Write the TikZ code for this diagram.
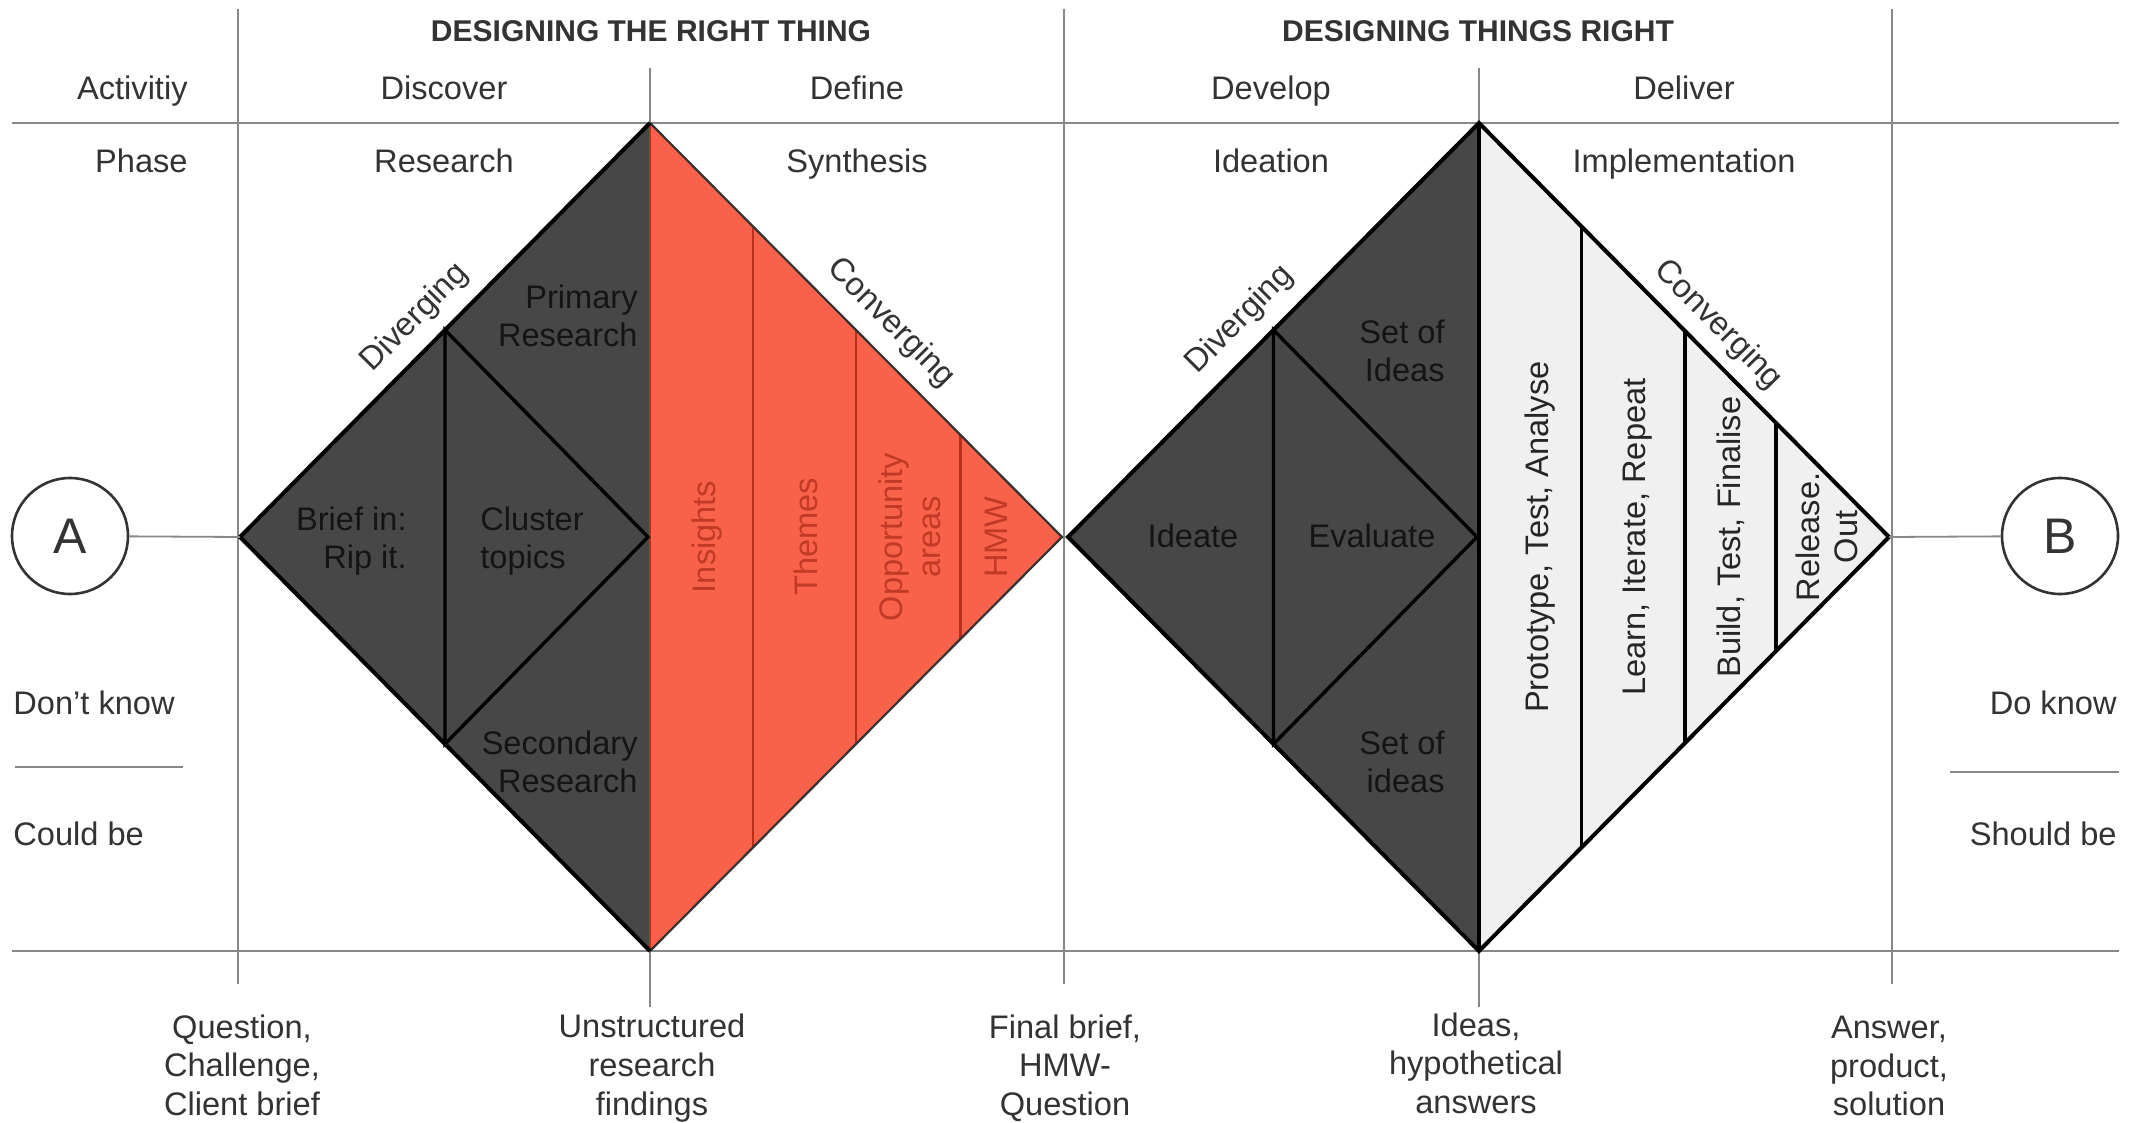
\documentclass[tikz,border=0pt]{standalone}
\usepackage{fontspec}
\setmainfont{Liberation Sans}
\usetikzlibrary{calc}
\definecolor{ink}{HTML}{333333}
\definecolor{gridc}{HTML}{888888}
\definecolor{darkfill}{HTML}{474747}
\definecolor{redfill}{HTML}{F9624A}
\definecolor{redsep}{HTML}{BA2F1A}
\definecolor{redtext}{HTML}{C03A26}
\definecolor{lightfill}{HTML}{F0F0F0}
\begin{document}
\begin{tikzpicture}[x=0.5pt,y=-0.5pt,
  txt/.style={font=\fontsize{16.3}{19.3}\selectfont, text=ink, inner sep=0pt, align=center},
  hd/.style={font=\fontsize{15}{18}\selectfont\bfseries, text=ink, inner sep=0pt},
  gridline/.style={draw=gridc, line width=1pt},
  vline/.style={draw=gridc, line width=0.8pt},
  conn/.style={draw=gridc, line width=0.9pt},
  edgeline/.style={draw=black, line width=2pt, line join=miter},
  innerline/.style={draw=black, line width=1.7pt, line join=miter},
  thinedge/.style={draw=ink, line width=1.1pt, line join=miter},
  redline/.style={draw=redsep, line width=1.3pt},
  intxt/.style={txt, text=black!92},
  redlab/.style={txt, text=redtext, rotate=90},
  lightlab/.style={txt, text=black!85, rotate=90},
  circ/.style={circle, draw=ink, line width=1.3pt, minimum size=58pt, inner sep=0pt,
    font=\fontsize{25}{25}\selectfont, text=ink},
]
\useasboundingbox (0,0) rectangle (2138,1123);
\fill[white] (0,0) rectangle (2138,1123);

% grid
\draw[gridline] (12,123) -- (2119,123);
\draw[gridline] (12,951) -- (2119,951);
\foreach \x/\a/\b in {238/9/984, 650/68/1007, 1064/9/984, 1479/68/1007, 1892/9/984}
  \draw[vline] (\x,\a) -- (\x,\b);
\draw[vline] (15,767) -- (183,767);
\draw[vline] (1950,772) -- (2119,772);

% diamond 1
\coordinate (L1) at (240,537);
\coordinate (T1) at (650,123);
\coordinate (R1) at (1062,537);
\coordinate (B1) at (650,951);
\fill[darkfill] (L1) -- (T1) -- (B1) -- cycle;
\fill[redfill] (T1) -- (R1) -- (B1) -- cycle;
\foreach \t in {0.25,0.5,0.754}
  \draw[redline] ($(T1)!\t!(R1)$) -- ($(B1)!\t!(R1)$);
\draw[redline, line width=1pt] (T1) -- (B1);
\draw[thinedge] (T1) -- (R1) -- (B1);
\coordinate (P1) at ($(L1)!0.5!(T1)$);
\coordinate (Q1) at ($(L1)!0.5!(B1)$);
\coordinate (M1) at (648,537);
\draw[innerline] (P1) -- (M1) -- (Q1) -- cycle;
\draw[edgeline] (B1) -- (L1) -- (T1);

% diamond 2
\coordinate (L2) at (1068,537);
\coordinate (T2) at (1479,123);
\coordinate (R2) at (1889,537);
\coordinate (B2) at (1479,951);
\fill[darkfill] (L2) -- (T2) -- (B2) -- cycle;
\fill[lightfill] (T2) -- (R2) -- (B2) -- cycle;
\foreach \t in {0.25,0.502,0.724}
  \draw[innerline] ($(T2)!\t!(R2)$) -- ($(B2)!\t!(R2)$);
\coordinate (P2) at ($(L2)!0.5!(T2)$);
\coordinate (Q2) at ($(L2)!0.5!(B2)$);
\coordinate (M2) at (1477,537);
\draw[innerline] (P2) -- (M2) -- (Q2) -- cycle;
\draw[edgeline] (T2) -- (B2);
\draw[edgeline] (L2) -- (T2) -- (R2) -- (B2) -- cycle;

% circles
\node[circ] (A) at (70,536) {A};
\node[circ] (Bc) at (2060,536) {B};
\draw[conn] (A) -- (L1);
\draw[conn] (R2) -- (Bc);

% headers
\node[hd, anchor=base] (t1) at (651,42) {DESIGNING THE RIGHT THING};
\node[hd, anchor=base] (t2) at (1478,42) {DESIGNING THINGS RIGHT};
\node[txt, anchor=base east] (act) at (188,100) {Activitiy};
\node[txt, anchor=base] (disc) at (444,100) {Discover};
\node[txt, anchor=base] (defi) at (857,100) {Define};
\node[txt, anchor=base] (deve) at (1271,100) {Develop};
\node[txt, anchor=base] (deli) at (1684,100) {Deliver};
\node[txt, anchor=base east] (pha) at (188,173) {Phase};
\node[txt, anchor=base] (rese) at (444,173) {Research};
\node[txt, anchor=base] (synt) at (857,173) {Synthesis};
\node[txt, anchor=base] (idea) at (1271,173) {Ideation};
\node[txt, anchor=base] (impl) at (1684,173) {Implementation};

% side labels
\node[txt, anchor=base west] (dk) at (13,714) {Don't know};
\node[txt, anchor=base west] (cb) at (13,845) {Could be};
\node[txt, anchor=base east] (dok) at (2117,714) {Do know};
\node[txt, anchor=base east] (sb) at (2117,845) {Should be};

% bottom labels
\node[txt] (o1) at (242,1065) {Question,\\Challenge,\\Client brief};
\node[txt] (o2) at (652,1068) {Unstructured\\research\\findings};
\node[txt] (o3) at (1065,1068) {Final brief,\\HMW-\\Question};
\node[txt] (o4) at (1476,1063) {Ideas,\\hypothetical\\answers};
\node[txt] (o5) at (1889,1066) {Answer,\\product,\\solution};

% diagonal labels
\node[txt, rotate=45.2] (dv1) at (415,318) {Diverging};
\node[txt, rotate=-45.2] (cv1) at (891,323) {Converging};
\node[txt, rotate=45.2] (dv2) at (1240,320) {Diverging};
\node[txt, rotate=-45.2] (cv2) at (1718,325) {Converging};

% diamond 1 inner labels
\node[intxt, align=right, anchor=east] (pr) at (638,316) {Primary\\Research};
\node[intxt, align=right, anchor=east] (sr) at (638,762) {Secondary\\Research};
\node[intxt, align=right, anchor=east] (br) at (407,541) {Brief in:\\Rip it.};
\node[intxt, align=left, anchor=west] (cl) at (480,541) {Cluster\\topics};

% red labels
\node[redlab, anchor=base] (ins) at (715,537) {Insights};
\node[redlab, anchor=base] (the) at (817,537) {Themes};
\node[redlab] (opp) at (910,537) {Opportunity\\areas};
\node[redlab, anchor=base] (hmw) at (1007,537) {HMW};

% diamond 2 inner labels
\node[intxt, align=right, anchor=east] (si1) at (1445,351) {Set of\\Ideas};
\node[intxt, align=right, anchor=east] (si2) at (1445,762) {Set of\\ideas};
\node[intxt, anchor=base] (ide) at (1193,547) {Ideate};
\node[intxt, anchor=base] (eva) at (1372,547) {Evaluate};

% light labels
\node[lightlab, anchor=base] (pta) at (1548,537) {Prototype, Test, Analyse};
\node[lightlab, anchor=base] (lir) at (1645,537) {Learn, Iterate, Repeat};
\node[lightlab, anchor=base] (btf) at (1740,537) {Build, Test, Finalise};
\node[lightlab] (rel) at (1827,537) {Release.\\Out};
\end{tikzpicture}
\end{document}
